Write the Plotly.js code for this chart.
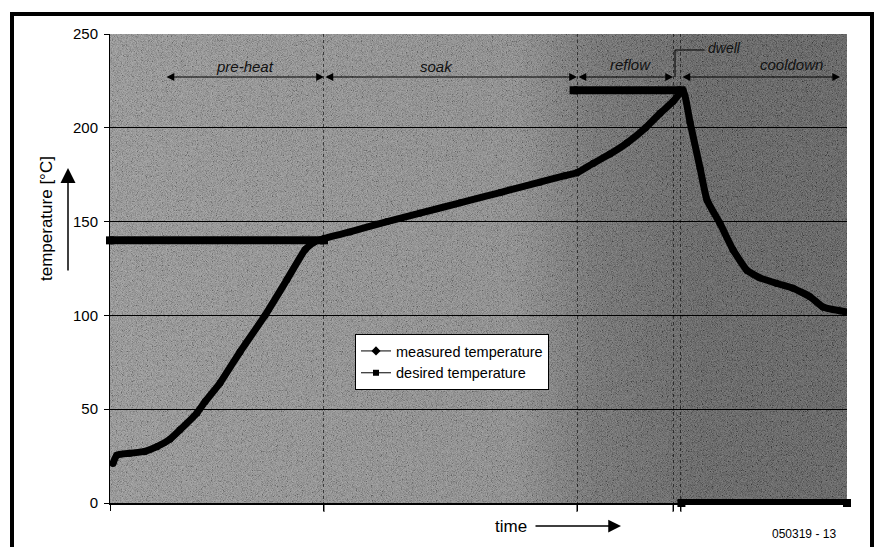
<!DOCTYPE html>
<html><head><meta charset="utf-8">
<script src="https://cdn.plot.ly/plotly-3.0.1.min.js"></script>
<style>html,body{margin:0;padding:0;background:#fff;} #chart{width:877px;height:547px;}</style>
</head><body><div id="chart"></div>
<script>
// ---- data ----
const measuredTime = [1.2, 2.8, 8.1, 14.2, 19.1, 24.4, 28.5, 35.4, 38.7, 44.8, 52.9, 63.1, 72.0, 79.4, 83.0, 87.1,
  97.7, 112.8, 126.2, 142.5, 158.8, 175.0, 185.2, 190.1,
  196.6, 203.5, 210.5, 218.0, 223.9, 229.2, 233.3,
  236.1, 240.2, 243.0, 248.3, 253.6, 259.3, 264.6, 271.5, 278.0, 284.9, 290.2, 299.2];
const measuredTemp = [21, 25.5, 26.5, 27.5, 30, 34, 39, 48, 54, 64, 80.5, 100, 119, 135, 139, 141,
  144.5, 150, 154.5, 160, 165.5, 171, 174.5, 176,
  181, 186, 192, 200, 207.7, 214, 220,
  203, 178.5, 161.5, 149, 135, 124, 120, 117, 114.5, 110, 104.5, 102];
const desiredTime = [0, 87.1, null, 188.7, 232.6, null, 232.6, 300];
const desiredTemp = [140, 140, null, 220, 220, null, 0, 0];
const yTicks = [0, 50, 100, 150, 200, 250];
const yGrid = [50, 100, 150, 200];
const phaseBounds = [87.1, 190.1, 229.2, 232.4];
const phaseNames = ['pre-heat', 'soak', 'reflow', 'dwell', 'cooldown'];
const seriesNames = ['measured temperature', 'desired temperature'];

// ---- geometry helpers (layout only) ----
const L = 110, R = 847, T = 34, B = 503;
const px = v => (v - L) / (R - L);
const py = v => (B - v) / (B - T);
const font = 'Liberation Sans, Arial, sans-serif';

const bgSvg = "<svg xmlns='http://www.w3.org/2000/svg' width='737' height='469'>" +
 "<defs><linearGradient id='g' x1='0' y1='0' x2='1' y2='0'>" +
 "<stop offset='0' stop-color='#8e8e8e'/><stop offset='0.55' stop-color='#828282'/>" +
 "<stop offset='0.66' stop-color='#606060'/><stop offset='0.8' stop-color='#4f4f4f'/><stop offset='1' stop-color='#4c4c4c'/>" +
 "</linearGradient>" +
 "<filter id='n' x='0' y='0' width='100%' height='100%'><feTurbulence type='fractalNoise' baseFrequency='1.2' numOctaves='1' seed='4'/>" +
 "<feColorMatrix type='matrix' values='2 0 0 0 -0.5  2 0 0 0 -0.5  2 0 0 0 -0.5  0 0 0 0 1'/></filter></defs>" +
 "<rect width='100%' height='100%' fill='url(#g)'/>" +
 "<rect width='100%' height='100%' filter='url(#n)' opacity='0.28'/></svg>";

const traces = [
  {x: measuredTime, y: measuredTemp, mode: 'lines+markers', showlegend: false,
   line: {color: '#000', width: 7, shape: 'spline', smoothing: 0.45}, marker: {symbol: 'circle', size: 7, color: '#000'}},
  {x: desiredTime, y: desiredTemp, mode: 'lines+markers', showlegend: false, connectgaps: false, cliponaxis: false,
   line: {color: '#000', width: 8}, marker: {symbol: 'square', size: 8, color: '#000'}},
  {x: [null], y: [null], name: seriesNames[0], mode: 'lines+markers',
   line: {color: '#000', width: 1}, marker: {symbol: 'diamond', size: 7, color: '#000'}},
  {x: [null], y: [null], name: seriesNames[1], mode: 'lines+markers',
   line: {color: '#000', width: 1}, marker: {symbol: 'square', size: 6, color: '#000'}}
];

const toY = p => (B - p) / ((B - T) / 250);
const arrowY = toY(77);
const segs = [[22.4, phaseBounds[0]], [phaseBounds[0], phaseBounds[1]], [phaseBounds[1], phaseBounds[2]], [phaseBounds[3], 297.2]];
const labelPos = [[55, 66], [133.1, 66], [211.7, 64], [242.8, 48], [277.6, 64]];

const annotations = [];
segs.forEach(s => annotations.push({x: s[1], y: arrowY, xref: 'x', yref: 'y', ax: s[0], ay: arrowY, axref: 'x', ayref: 'y',
  text: '', showarrow: true, arrowhead: 2, arrowside: 'end+start', arrowsize: 1.3, arrowwidth: 1.2, arrowcolor: '#000'}));
phaseNames.forEach((n, i) => annotations.push({x: labelPos[i][0], y: toY(labelPos[i][1]), xref: 'x', yref: 'y', text: '<i>' + n + '</i>',
  showarrow: false, font: {family: font, size: i === 3 ? 14 : 15, color: '#111'}, xanchor: i === 3 ? 'left' : 'center', yanchor: 'middle'}));

annotations.push({x: px(47), y: py(219), xref: 'paper', yref: 'paper', text: 'temperature [°C]', textangle: -90,
  xanchor: 'center', yanchor: 'middle', showarrow: false, font: {family: font, size: 17, color: '#000'}});
annotations.push({x: px(68), y: py(168), xref: 'paper', yref: 'paper', text: '', showarrow: true, ax: 0, ay: 104,
  arrowhead: 2, arrowsize: 2, arrowwidth: 1.5, arrowcolor: '#000'});
annotations.push({x: px(511), y: py(526), xref: 'paper', yref: 'paper', text: 'time', showarrow: false,
  xanchor: 'center', yanchor: 'middle', font: {family: font, size: 17, color: '#000'}});
annotations.push({x: px(621), y: py(526), xref: 'paper', yref: 'paper', text: '', showarrow: true, ax: -87, ay: 0,
  arrowhead: 2, arrowsize: 1.7, arrowwidth: 1.5, arrowcolor: '#000'});
annotations.push({x: px(804), y: py(534), xref: 'paper', yref: 'paper', text: '050319 - 13', showarrow: false,
  xanchor: 'center', yanchor: 'middle', font: {family: font, size: 12, color: '#000'}});

const shapes = [
  {type: 'rect', xref: 'paper', yref: 'paper', x0: px(12), x1: px(872), y0: py(14), y1: py(580), line: {color: '#000', width: 4}},
  {type: 'path', xref: 'x', yref: 'y', path: `M 230,${arrowY} L 230,${toY(50)} L 242,${toY(50)}`, line: {color: '#000', width: 1}}
];
phaseBounds.forEach(b => shapes.push({type: 'line', xref: 'x', yref: 'paper', x0: b, x1: b, y0: 0, y1: py(519),
  line: {color: '#000', width: 1, dash: 'dash'}}));

const layout = {
  width: 877, height: 547,
  margin: {l: L, r: 877 - R, t: T, b: 547 - B},
  paper_bgcolor: '#fff', plot_bgcolor: 'rgba(0,0,0,0)',
  font: {family: font, color: '#000'},
  showlegend: true,
  legend: {x: px(355), y: py(334), xanchor: 'left', yanchor: 'top', bgcolor: '#fff', bordercolor: '#000', borderwidth: 1,
    font: {family: font, size: 14.5, color: '#000'}, tracegroupgap: 0},
  xaxis: {range: [0, 300], showticklabels: false, tickmode: 'array', tickvals: [0].concat(phaseBounds), ticks: 'outside', ticklen: 6,
    tickcolor: '#000', showgrid: true, gridcolor: 'rgba(0,0,0,0.6)', griddash: 'dot', gridwidth: 1,
    showline: true, linecolor: '#000', linewidth: 1.5, zeroline: false, fixedrange: true},
  yaxis: {range: [0, 250], tickmode: 'array', tickvals: yTicks, ticks: 'outside', ticklen: 5, tickcolor: '#000',
    tickfont: {family: font, size: 15, color: '#000'}, ticklabelstandoff: 3,
    showgrid: false, showline: true, linecolor: '#000', linewidth: 1, zeroline: false, fixedrange: true,
    minor: {tickmode: 'array', tickvals: yGrid, showgrid: true, gridcolor: '#000', gridwidth: 1.2, ticks: ''}},
  images: [{source: 'data:image/svg+xml;charset=utf-8,' + encodeURIComponent(bgSvg), xref: 'paper', yref: 'paper',
    x: 0, y: 1, sizex: 1, sizey: 1, sizing: 'stretch', xanchor: 'left', yanchor: 'top', layer: 'below'}],
  annotations: annotations,
  shapes: shapes
};

Plotly.newPlot('chart', traces, layout, {staticPlot: true, displayModeBar: false});
</script></body></html>
